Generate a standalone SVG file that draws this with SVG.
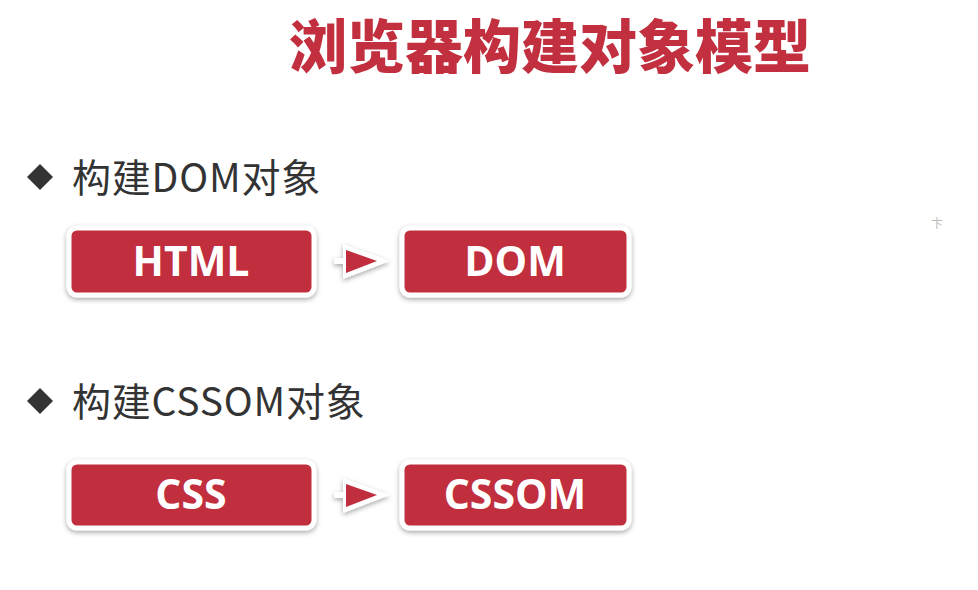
<svg xmlns="http://www.w3.org/2000/svg" width="978" height="590" viewBox="0 0 978 590">
<style>
.title{font-family:"Noto Sans CJK SC","Noto Sans",sans-serif;font-weight:900;font-size:58px;fill:#c2303f}
.bullet{font-family:"Noto Sans CJK SC","Noto Sans",sans-serif;font-size:39px;letter-spacing:0.8px;fill:#333}
.box{fill:#c12e3e;stroke:#fff;stroke-width:5}
.lbl{font-family:"Open Sans","Liberation Sans",sans-serif;font-weight:700;font-size:41px;fill:#fff;text-anchor:middle}
.arrowbg{fill:#fff}
.arrowfg{fill:#c12e3e}
</style>
<defs>
<filter id="sh" x="-20%" y="-30%" width="140%" height="160%">
<feDropShadow dx="0" dy="2" stdDeviation="2.5" flood-color="#000" flood-opacity="0.35"/>
</filter>
</defs>
<rect width="978" height="590" fill="#fff"/>
<text class="title" x="550" y="68" text-anchor="middle">浏览器构建对象模型</text>
<text x="937" y="228" font-family="Noto Sans CJK SC,sans-serif" font-size="12" fill="#bbb" text-anchor="middle">卞</text>

<g id="bullet1">
<polygon points="40,164 53,177 40,190 27,177" fill="#333"/>
<text class="bullet" x="72" y="192">构建DOM对象</text>
</g>
<g id="bullet2">
<polygon points="40,388 53,401 40,414 27,401" fill="#333"/>
<text class="bullet" x="72" y="416">构建CSSOM对象</text>
</g>

<g id="html">
<rect class="box" x="69" y="228" width="245" height="67" rx="8" filter="url(#sh)"/>
<text class="lbl" x="191" y="276">HTML</text>
</g>
<g id="dom">
<rect class="box" x="402" y="228" width="227" height="67" rx="8" filter="url(#sh)"/>
<text class="lbl" x="515" y="276">DOM</text>
</g>
<g id="css">
<rect class="box" x="69" y="462" width="245" height="66" rx="8" filter="url(#sh)"/>
<text class="lbl" x="191" y="509">CSS</text>
</g>
<g id="cssom">
<rect class="box" x="402" y="462" width="227" height="66" rx="8" filter="url(#sh)"/>
<text class="lbl" x="515" y="509">CSSOM</text>
</g>

<g id="connectors">
<g filter="url(#sh)">
<polygon class="arrowbg" points="343,244 390,261 343,279 343,264 334,264 334,258 343,258"/>
</g>
<polygon class="arrowfg" points="346,250 377,261 346,273"/>
<g filter="url(#sh)">
<polygon class="arrowbg" points="343,478 390,495 343,513 343,498 334,498 334,492 343,492"/>
</g>
<polygon class="arrowfg" points="346,484 377,495 346,507"/>
</g>
</svg>
